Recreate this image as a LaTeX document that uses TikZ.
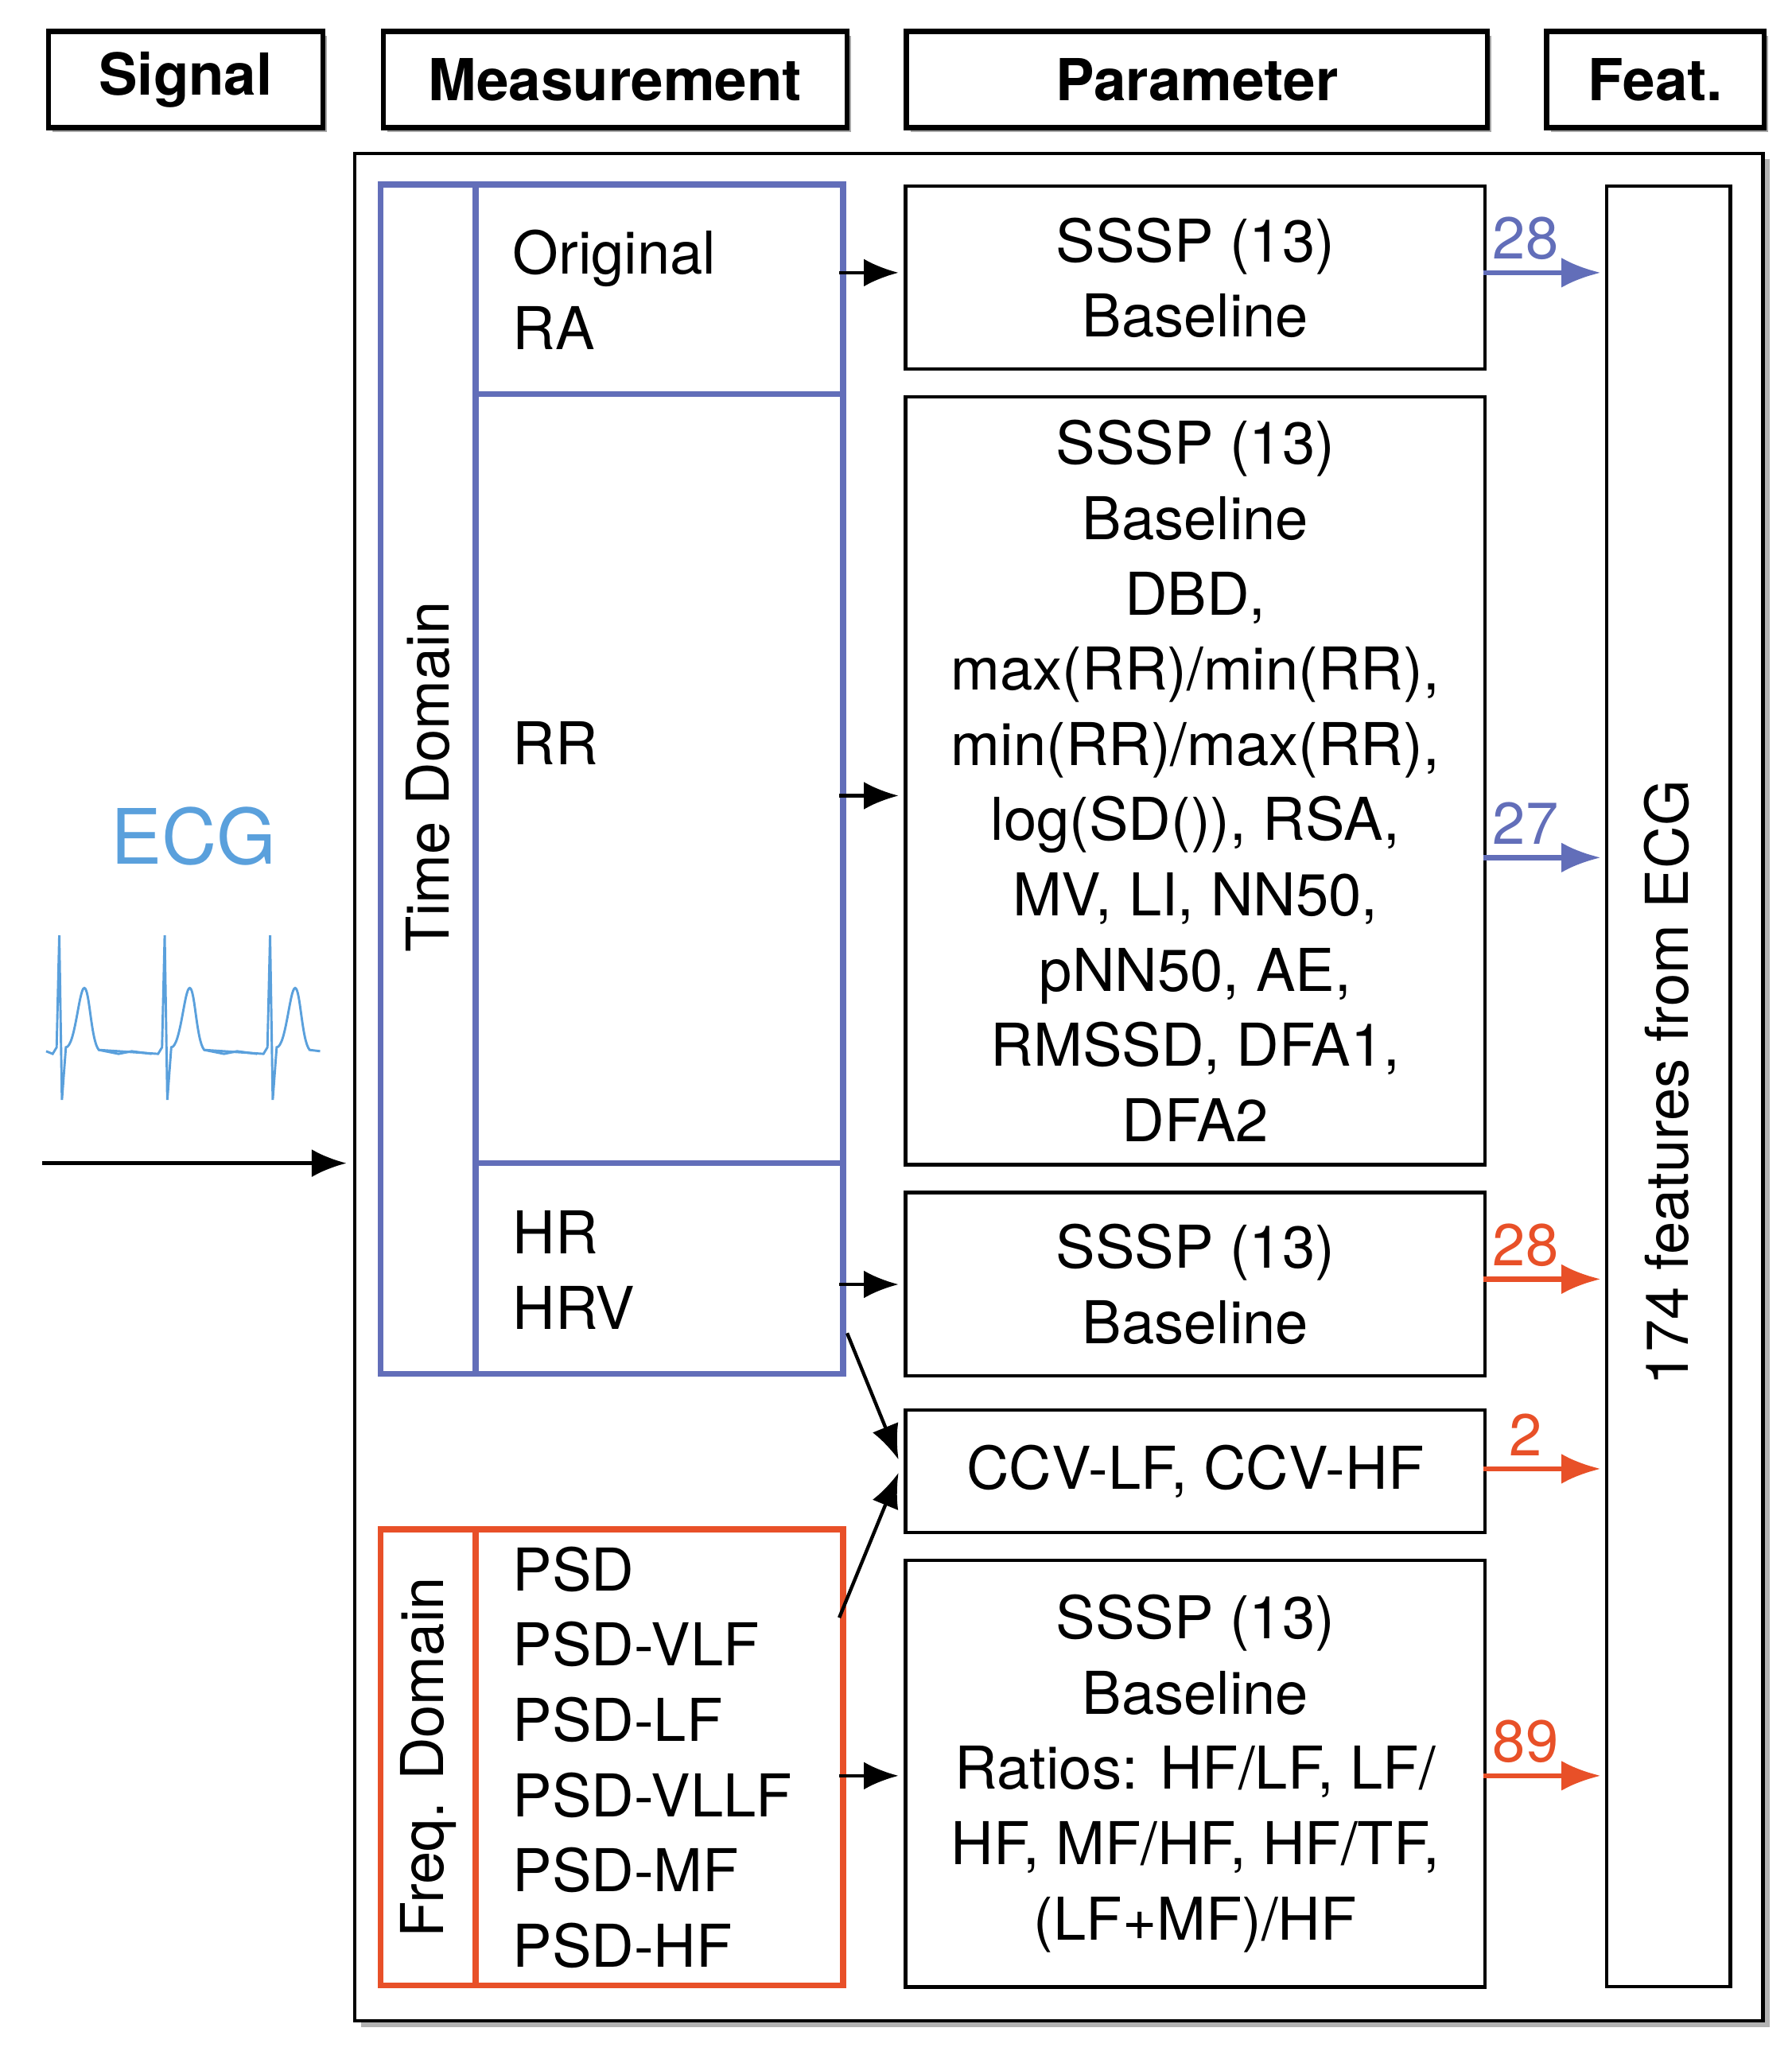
\documentclass[tikz,border=0pt]{standalone}
\usepackage{fontspec}
\setmainfont{TeX Gyre Heros}
\usetikzlibrary{arrows.meta}
\definecolor{tblue}{RGB}{98,110,185}
\definecolor{torange}{RGB}{232,80,40}
\definecolor{ecgblue}{RGB}{90,160,220}
\begin{document}
\begin{tikzpicture}[x=0.02cm,y=-0.02cm,
  txt/.style={font=\fontsize{25.5}{32.5}\selectfont},
  hdr/.style={draw,line width=2.2pt,font=\fontsize{25}{30}\selectfont\bfseries,inner sep=0},
  box/.style={draw,line width=1.5pt},
  arr/.style={-{Latex[length=15pt,width=12pt]},line width=1.5pt},
  oarr/.style={-{Latex[length=17pt,width=13pt]},line width=2.2pt}]
\useasboundingbox (0,0) rectangle (1360,1560);
% headers with shadow
\foreach \a/\b/\t/\n in {35/243/Signal/hs,289/641/Measurement/hm,686/1127/Parameter/hp,1172/1337/Feat./hf}{
  \fill[black!35] (\a+5,27) rectangle (\b+5,100);
  \node[hdr,fill=white,minimum width={(\b-\a)*0.02cm},minimum height=1.46cm,anchor=north west] (\n) at (\a,22) {\t};
}
% outer box
\fill[black!30] (274,121) rectangle (1343,1539);
\node[box,fill=white,minimum width=21.38cm,minimum height=28.36cm,anchor=north west] (outer) at (268,115) {};
% time domain
\draw[tblue,line width=2.5pt] (289,140) rectangle (640,1043);
\draw[tblue,line width=2.5pt] (361,140) -- (361,1043) (361,299) -- (640,299) (361,883) -- (640,883);
\node[txt,rotate=90] (td) at (325,590) {Time Domain};
\node[txt,anchor=west,align=left] (m1) at (383,220) {Original\\RA};
\node[txt,anchor=west] (m2) at (383,564) {RR};
\node[txt,anchor=west,align=left] (m3) at (383,964) {HR\\HRV};
% freq domain
\draw[torange,line width=2.5pt] (289,1161) rectangle (640,1507);
\draw[torange,line width=2.5pt] (361,1161) -- (361,1507);
\node[txt,rotate=90] (fd) at (325,1334) {Freq. Domain};
\node[txt,anchor=west,align=left] (m4) at (383,1334) {PSD\\PSD-VLF\\PSD-LF\\PSD-VLLF\\PSD-MF\\PSD-HF};
\coordinate (s1) at (637,207); \coordinate (s2) at (637,604); \coordinate (s3) at (637,975);
\coordinate (s4) at (637,1348); \coordinate (s5) at (643,1012); \coordinate (s6) at (637,1228);
% parameter boxes
\node[box,txt,align=center,minimum width=8.8cm,minimum height=2.78cm,anchor=north west] (p1) at (686,140) {SSSP (13)\\Baseline};
\node[box,txt,align=center,minimum width=8.8cm,minimum height=11.66cm,anchor=north west] (p2) at (686,300) {SSSP (13)\\Baseline\\DBD,\\max(RR)/min(RR),\\min(RR)/max(RR),\\log(SD()), RSA,\\MV, LI, NN50,\\pNN50, AE,\\RMSSD, DFA1,\\DFA2};
\node[box,txt,align=center,minimum width=8.8cm,minimum height=2.78cm,anchor=north west] (p3) at (686,904) {SSSP (13)\\Baseline};
\node[box,txt,align=center,minimum width=8.8cm,minimum height=1.86cm,anchor=north west] (p4) at (686,1069) {CCV-LF, CCV-HF};
\node[box,txt,align=center,minimum width=8.8cm,minimum height=6.48cm,anchor=north west] (p5) at (686,1183) {SSSP (13)\\Baseline\\Ratios: HF/LF, LF/\\HF, MF/HF, HF/TF,\\(LF+MF)/HF};
\draw[arr] (s1) -- (682,207);
\draw[arr] (s2) -- (682,604);
\draw[arr] (s3) -- (682,975);
\draw[arr] (s4) -- (682,1348);
\draw[arr] (s5) -- (682,1108);
\draw[arr] (s6) -- (682,1118);
% feature box
\node[box,minimum width=1.88cm,minimum height=27.34cm,anchor=north west] (feat) at (1218,140) {};
\node[txt,rotate=90] (ft) at (1265,822) {174 features from ECG};
\foreach \y/\c/\l in {207/tblue/28,651/tblue/27,971/torange/28,1115/torange/2,1348/torange/89}{
  \draw[oarr,\c] (1126,\y) -- (1215,\y);
  \node[txt,text=\c] at (1158,\y-26) {\l};
}
% signal
\node[font=\fontsize{33}{40}\selectfont,text=ecgblue] (ecg) at (147,635) {ECG};
\draw[ecgblue,line width=1pt] (35,798)
 \foreach \x in {35,115,195}{
  -- (\x+5,800) -- (\x+8,795) -- (\x+10,710) -- (\x+12,835) -- (\x+15,795)
  .. controls (\x+22,795) and (\x+25,750) .. (\x+29,750)
  .. controls (\x+33,750) and (\x+34,790) .. (\x+40,797)
 } -- (243,798);
\draw[ecgblue,line width=1pt] (75,797) -- (90,800) -- (100,798) -- (115,800)
  (155,797) -- (170,800) -- (180,798) -- (195,800);
\coordinate (in) at (32,883);
\draw[arr] (in) -- (263,883);
\end{tikzpicture}
\end{document}
